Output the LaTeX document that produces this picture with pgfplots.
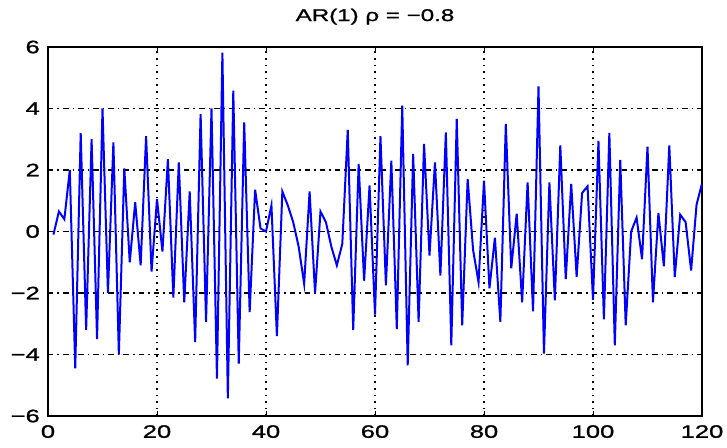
\documentclass[border=0pt]{standalone}
\usepackage{fontspec}
\setmainfont{Liberation Sans}[FakeStretch=1.45]
\newfontfamily\heavyfont{Liberation Sans}[FakeStretch=1.42, FakeBold=1.2]
\usepackage{pgfplots}
\pgfplotsset{compat=1.18}
\pgfplotstableread{
x y
1 -0.1
2 0.65
3 0.4
4 2.0
5 -4.45
6 3.2
7 -3.2
8 3.0
9 -3.5
10 4.0
11 -2.0
12 2.9
13 -4.0
14 2.05
15 -1.0
16 0.95
17 -1.1
18 3.1
19 -1.3
20 1.05
21 -0.65
22 2.35
23 -2.15
24 2.25
25 -2.3
26 1.3
27 -3.6
28 3.82
29 -2.94
30 4.0
31 -4.78
32 5.82
33 -5.43
34 4.58
35 -4.3
36 3.55
37 -2.62
38 1.36
39 0.1
40 0.0
41 0.85
42 -3.4
43 1.3
44 0.85
45 0.3
46 -0.5
47 -1.7
48 1.3
49 -2.0
50 0.65
51 0.3
52 -0.5
53 -1.1
54 -0.4
55 3.3
56 -3.2
57 2.2
58 -1.6
59 1.5
60 -2.7
61 3.1
62 -1.75
63 2.3
64 -3.17
65 4.09
66 -4.35
67 2.52
68 -2.94
69 2.85
70 -0.78
71 2.25
72 -1.43
73 3.22
74 -3.7
75 3.66
76 -3.05
77 1.71
78 -0.6
79 -1.65
80 1.65
81 -1.85
82 -0.2
83 -2.94
84 3.5
85 -1.2
86 0.58
87 -2.3
88 1.6
89 -2.6
90 4.72
91 -3.97
92 1.6
93 -2.24
94 2.8
95 -1.55
96 1.55
97 -1.47
98 1.25
99 1.47
100 -2.22
101 2.95
102 -2.86
103 3.21
104 -3.7
105 2.33
106 -3.05
107 0.0
108 0.45
109 -0.9
110 2.76
111 -2.3
112 0.6
113 -1.13
114 2.8
115 -1.48
116 0.55
117 0.3
118 -1.27
119 0.87
120 1.56
}\ardata
\begin{document}
\begin{tikzpicture}
\useasboundingbox (-48bp,-32bp) rectangle (679bp,416bp);
\begin{axis}[
  at={(0bp,0bp)}, anchor=south west,
  scale only axis, width=654bp, height=369bp,
  xmin=0, xmax=120, ymin=-6, ymax=6,
  xtick={0,20,40,60,80,100,120},
  xticklabels={0,20,40,60,80,100,120},
  ytick={-6,-4,-2,0,2,4,6},
  yticklabels={−6,−4,−2,0,2,4,6},
  axis line style={black, line width=1.6bp},
  tick style={black, line width=1bp},
  tick align=inside,
  major tick length=5bp,
  grid=major,
  major x grid style={black, line width=1.5bp, dash pattern=on 1.6bp off 5bp},
  major y grid style={black, line width=1.5bp, dash pattern=on 5.5bp off 4bp on 1.6bp off 4bp},
  ticklabel style={font=\heavyfont\fontsize{18bp}{21bp}\selectfont},
  xticklabel style={anchor=north, inner sep=0pt, yshift=-9bp},
  yticklabel style={anchor=east, inner sep=0pt, xshift=-8bp},
  title={AR(1) ρ = −0.8},
  title style={font=\heavyfont\fontsize{17bp}{20bp}\selectfont, at={(rel axis cs:0.5,1)}, anchor=base, yshift=20bp, inner sep=0pt},
]
\addplot[color={rgb,255:red,0;green,0;blue,255}, line width=2bp] table[x=x,y=y] {\ardata};
\end{axis}
\end{tikzpicture}
\end{document}
